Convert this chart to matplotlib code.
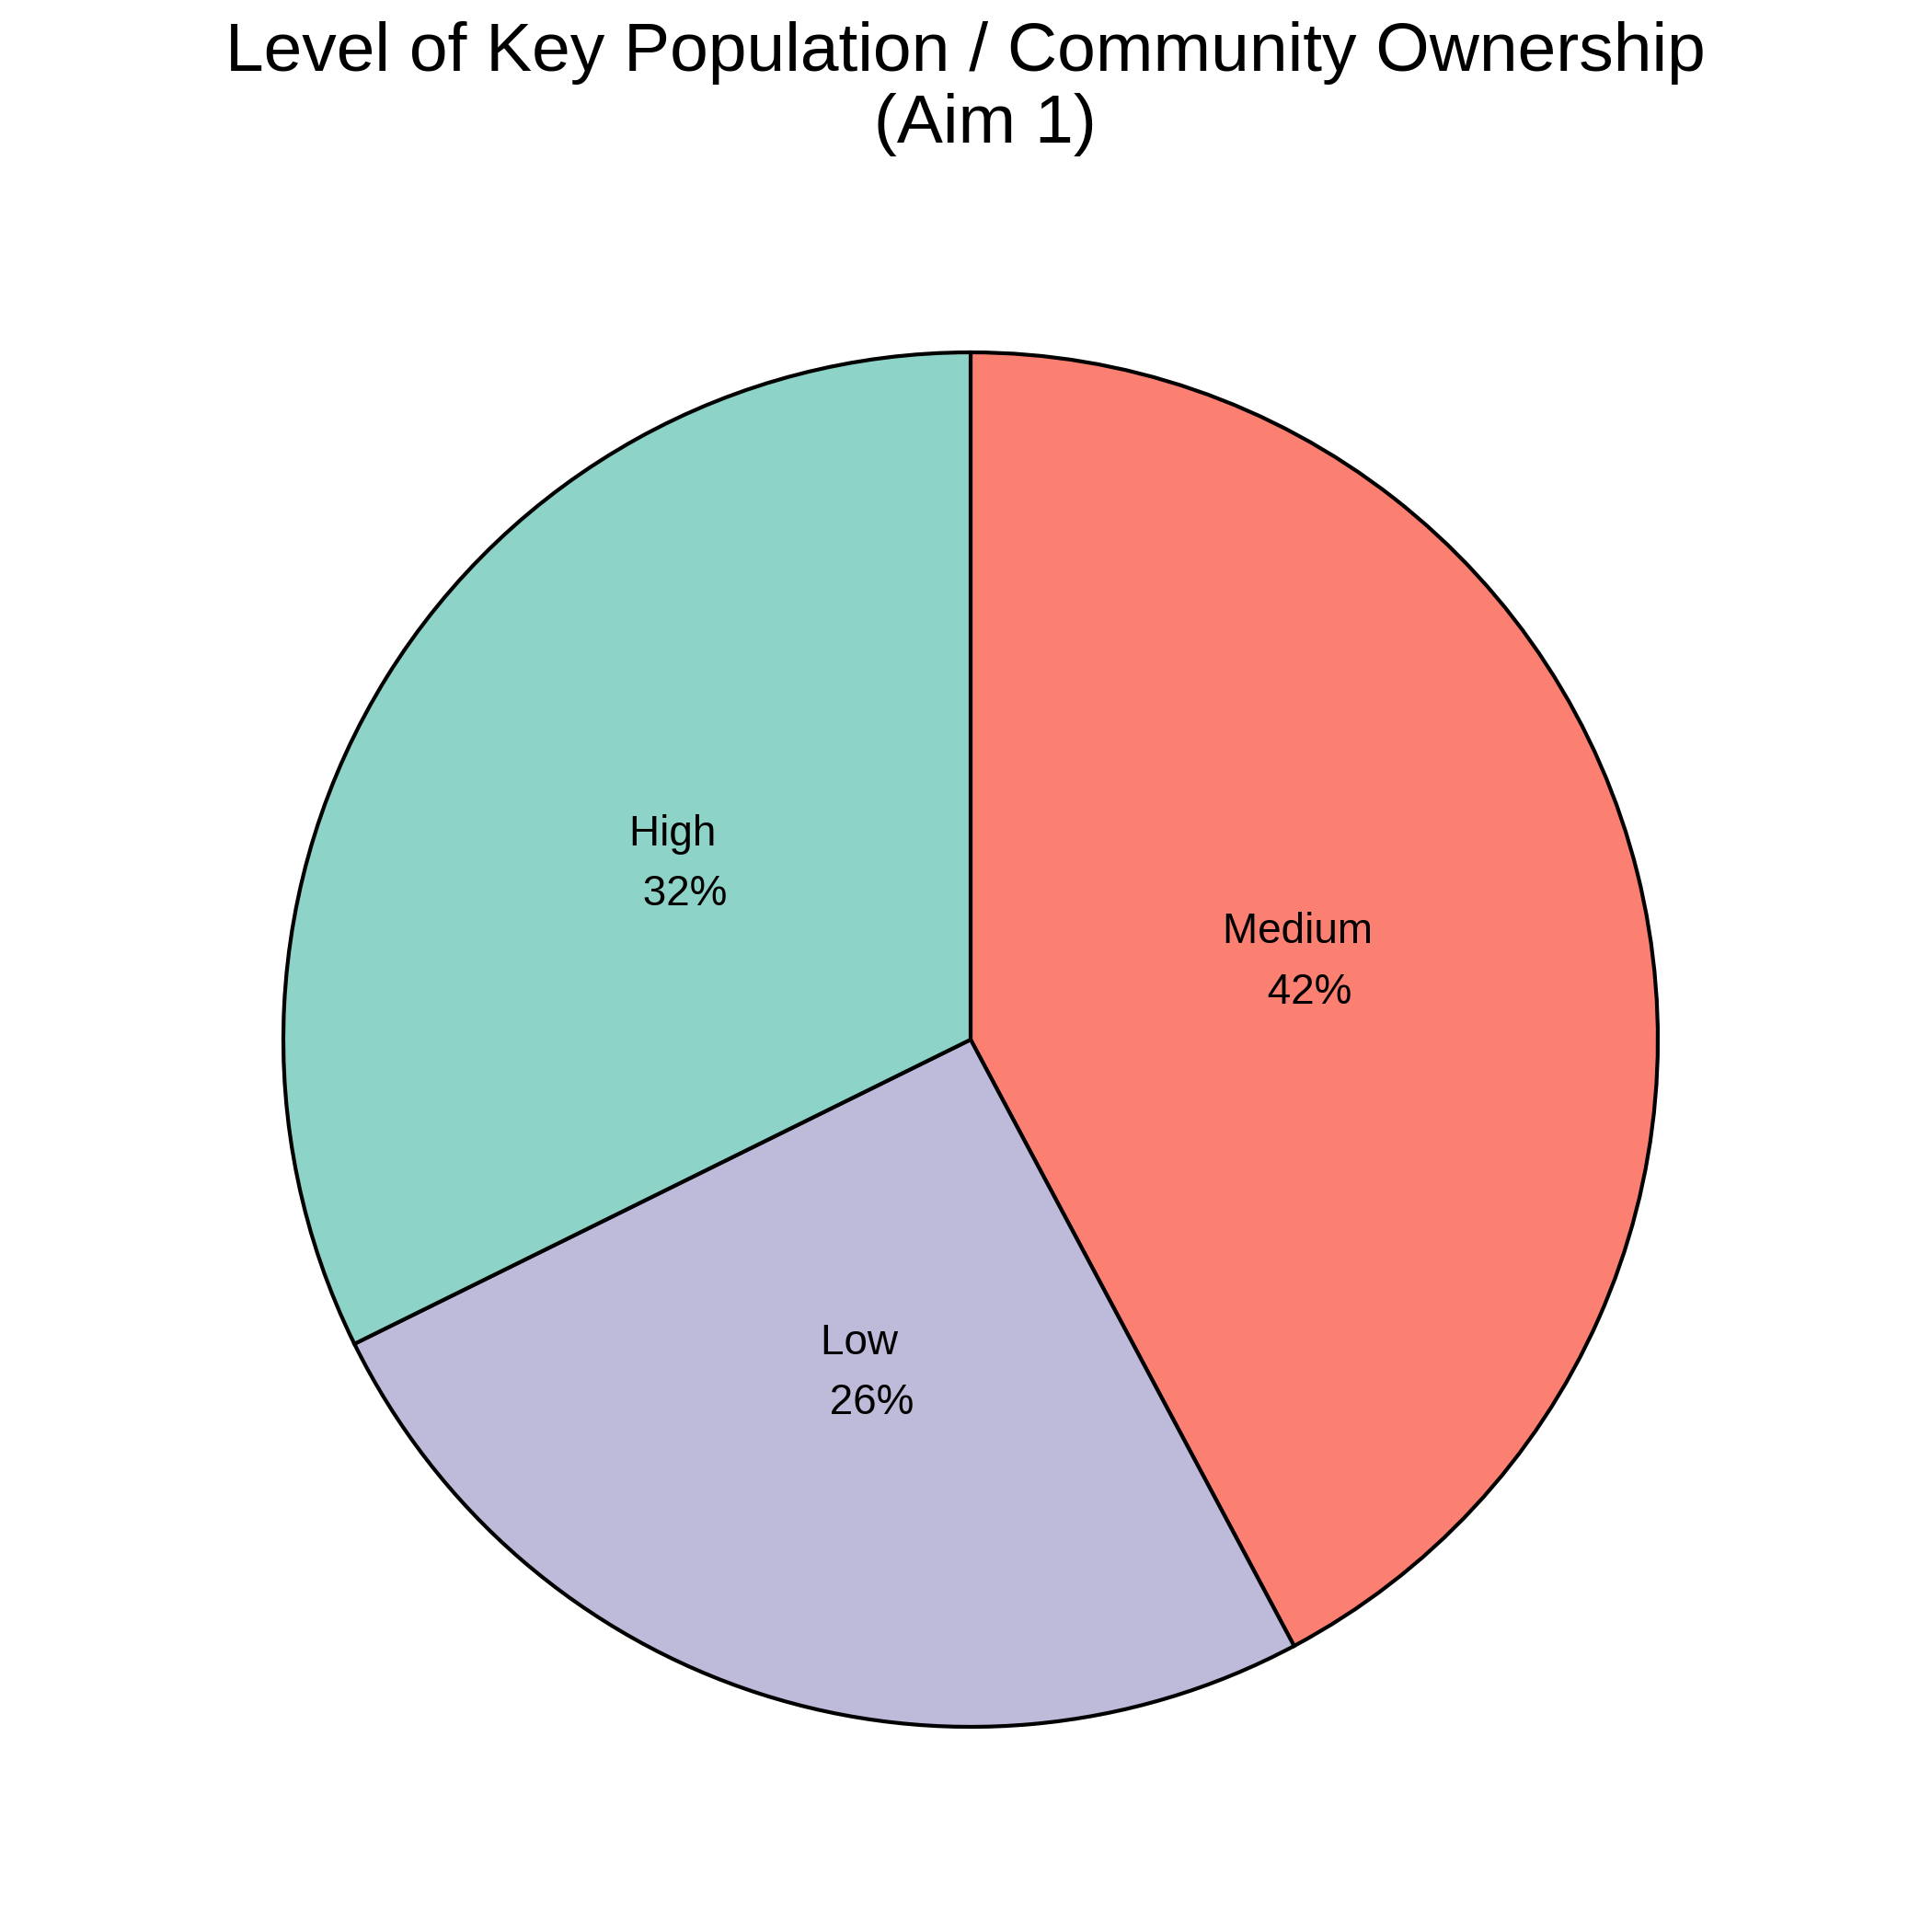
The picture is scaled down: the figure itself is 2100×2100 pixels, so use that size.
import matplotlib
matplotlib.use("Agg")
import matplotlib.pyplot as plt
import numpy as np

plt.rcParams['font.family'] = ['Liberation Sans', 'DejaVu Sans']

categories = ["Medium", "Low", "High"]
shares = [42.2, 25.5, 32.3]          # percent of responses (slice sizes)
colors = ["#FB8072", "#BEBADA", "#8DD3C7"]
title = "Level of Key Population / Community Ownership \n (Aim 1)"

W = 2100
cx, cy, r = 1055 / W, 1 - 1130 / W, 747 / W

fig = plt.figure(figsize=(7, 7), dpi=300)
ax = fig.add_axes([cx - r, cy - r, 2 * r, 2 * r])
wedges, _ = ax.pie(shares, colors=colors, startangle=90, counterclock=False,
                   radius=1, wedgeprops=dict(edgecolor="black", linewidth=1.0))
ax.set_xlim(-1, 1)
ax.set_ylim(-1, 1)
ax.set_aspect("equal")
ax.axis("off")

# labels at half radius
total = sum(shares)
cum = 0
for cat, p in zip(categories, shares):
    mid = cum + p / 2
    cum += p
    ang = np.deg2rad(90 - 360 * mid / total)
    x, y = 0.5 * np.cos(ang), 0.5 * np.sin(ang)
    pct = round(100 * p / total)
    ax.text(x, y - 0.009, f"{cat} \n {pct}%", ha="center", va="center",
            multialignment="center", fontsize=11, linespacing=1.63)

fig.text(1060 / W, 1 - 155 / W, title, ha="center", va="baseline",
         multialignment="center", fontsize=18, linespacing=1.16)

fig.savefig("out.png", dpi=300, facecolor="white")
